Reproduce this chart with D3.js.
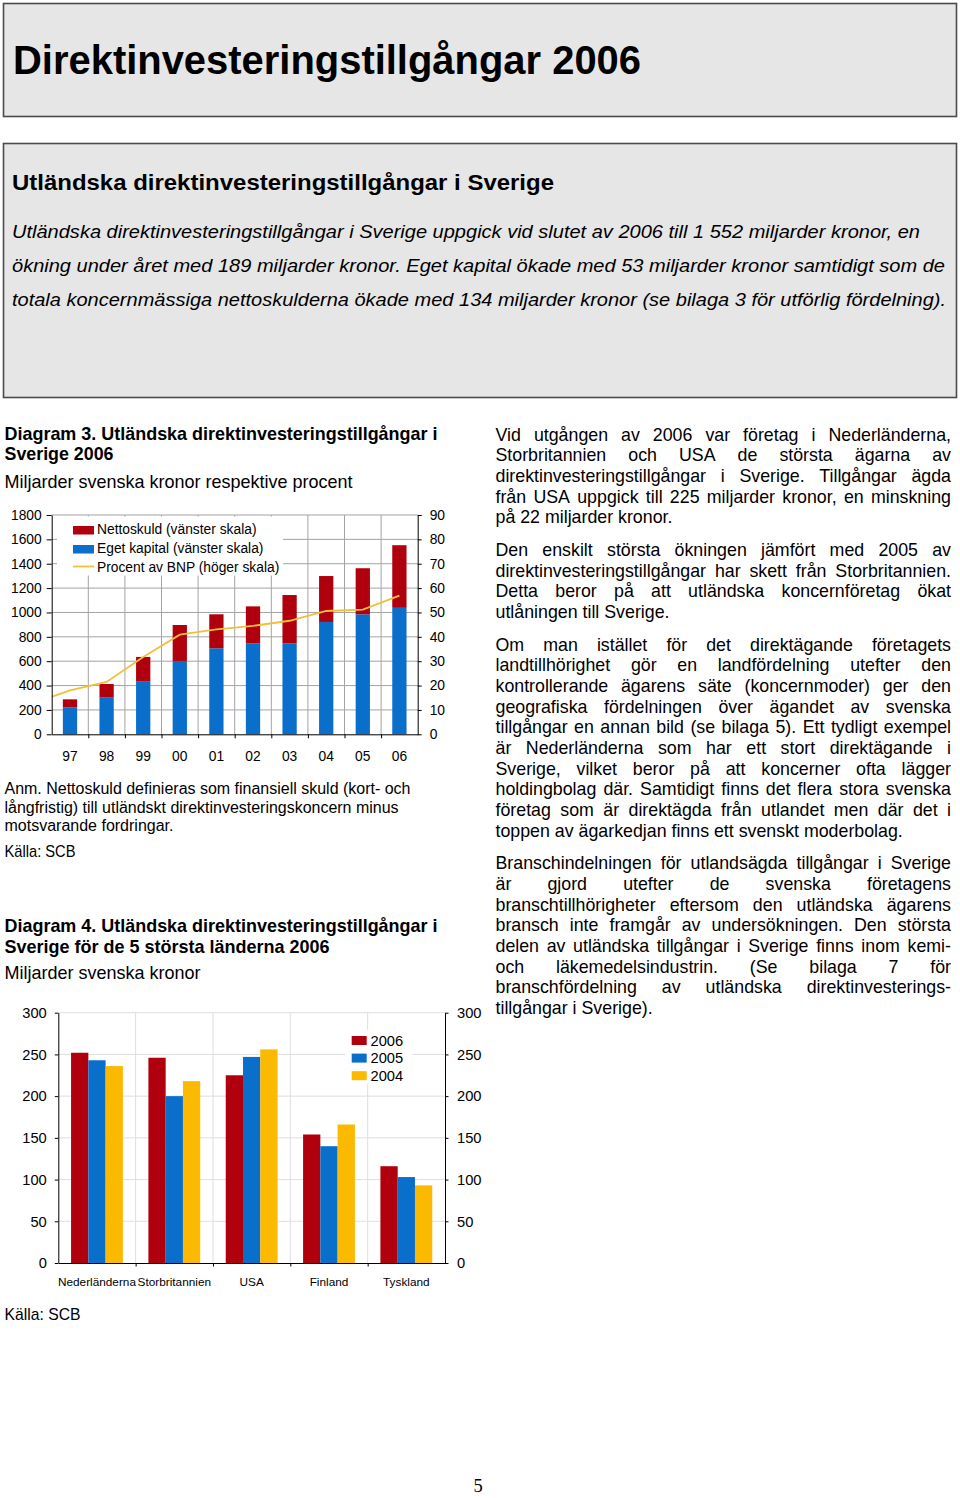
<!DOCTYPE html>
<html><head><meta charset="utf-8">
<script src="https://cdn.jsdelivr.net/npm/d3@7"></script>
<style>
html,body{margin:0;padding:0;background:#fff;}
svg text{font-family:"Liberation Sans",Arial,Helvetica,sans-serif;fill:#000;}
</style></head><body>
<svg id="page" width="960" height="1498"></svg>
<script>
// ---------- Diagram 3 data ----------
const yearLabels = ["97","98","99","00","01","02","03","04","05","06"];
const barYears = [1997,1998,1999,2000,2001,2002,2003,2004,2005,2006];
const egetKapital = [222,301,432,602,706,747,747,922,985,1038];
const nettoskuld = [65,112,203,295,279,303,396,377,378,514];
const bnpYears = [1996,1997,1998,1999,2000,2001,2002,2003,2004,2005,2006];
const bnpProcent = [12.8,18.0,21.5,31.7,40.9,43.1,44.5,46.6,50.6,51.2,56.9];
const leftTicks3 = [0,200,400,600,800,1000,1200,1400,1600,1800];
const rightTicks3 = [0,10,20,30,40,50,60,70,80,90];
const legend3 = ["Nettoskuld (vänster skala)","Eget kapital (vänster skala)","Procent av BNP (höger skala)"];

// ---------- Diagram 4 data ----------
const countries = ["Nederländerna","Storbritannien","USA","Finland","Tyskland"];
const seriesNames = ["2006","2005","2004"];
const values2006 = [252,246,225,154,116];
const values2005 = [243,200,247,140,103];
const values2004 = [236,218,256,166,93];
const ticks4 = [0,50,100,150,200,250,300];

// ---------- Texts ----------
const pageTitle = "Direktinvesteringstillgångar 2006";
const sectionHeading = "Utländska direktinvesteringstillgångar i Sverige";
const introLines = [
 "Utländska direktinvesteringstillgångar i Sverige uppgick vid slutet av 2006 till 1 552 miljarder kronor, en",
 "ökning under året med 189 miljarder kronor. Eget kapital ökade med 53 miljarder kronor samtidigt som de",
 "totala koncernmässiga nettoskulderna ökade med 134 miljarder kronor (se bilaga 3 för utförlig fördelning)."
];
const paragraphs = [
 ["Vid utgången av 2006 var företag i Nederländerna,",
  "Storbritannien och USA de största ägarna av",
  "direktinvesteringstillgångar i Sverige. Tillgångar ägda",
  "från USA uppgick till 225 miljarder kronor, en minskning",
  "på 22 miljarder kronor."],
 ["Den enskilt största ökningen jämfört med 2005 av",
  "direktinvesteringstillgångar har skett från Storbritannien.",
  "Detta beror på att utländska koncernföretag ökat",
  "utlåningen till Sverige."],
 ["Om man istället för det direktägande företagets",
  "landtillhörighet gör en landfördelning utefter den",
  "kontrollerande ägarens säte (koncernmoder) ger den",
  "geografiska fördelningen över ägandet av svenska",
  "tillgångar en annan bild (se bilaga 5). Ett tydligt exempel",
  "är Nederländerna som har ett stort direktägande i",
  "Sverige, vilket beror på att koncerner ofta lägger",
  "holdingbolag där. Samtidigt finns det flera stora svenska",
  "företag som är direktägda från utlandet men där det i",
  "toppen av ägarkedjan finns ett svenskt moderbolag."],
 ["Branschindelningen för utlandsägda tillgångar i Sverige",
  "är gjord utefter de svenska företagens",
  "branschtillhörigheter eftersom den utländska ägarens",
  "bransch inte framgår av undersökningen. Den största",
  "delen av utländska tillgångar i Sverige finns inom kemi-",
  "och läkemedelsindustrin. (Se bilaga 7 för",
  "branschfördelning av utländska direktinvesterings-",
  "tillgångar i Sverige)."]
];

const C = {red:"#B0000E", blue:"#0A6FCB", yellow:"#FBB900", line:"#F0C03A", grid3:"#a3a3a3", grid4:"#dedede"};
const svg = d3.select("#page");

function txt(x, y, s, size, opts) {
  opts = opts || {};
  const t = svg.append("text").attr("x", x).attr("y", y).attr("font-size", size).text(s);
  if (opts.weight) t.attr("font-weight", opts.weight);
  if (opts.style) t.attr("font-style", opts.style);
  if (opts.anchor) t.attr("text-anchor", opts.anchor);
  if (opts.family) t.style("font-family", opts.family);
  if (opts.len) t.attr("textLength", opts.len).attr("lengthAdjust", "spacingAndGlyphs");
  return t;
}

// ---------- Header boxes ----------
svg.append("rect").attr("x",3.5).attr("y",3.5).attr("width",953).attr("height",113)
  .attr("fill","#e6e6e6").attr("stroke","#4a4a4a").attr("stroke-width",1.6);
txt(13, 74, pageTitle, 40, {weight:"bold", len:628});
svg.append("rect").attr("x",3.5).attr("y",143.5).attr("width",953).attr("height",254)
  .attr("fill","#e6e6e6").attr("stroke","#4a4a4a").attr("stroke-width",1.6);
txt(12, 190, sectionHeading, 22, {weight:"bold", len:542});
const introLen = [908, 933, 934];
introLines.forEach((s,i)=> txt(12, 237.5 + i*34.3, s, 18.8, {style:"italic", len:introLen[i]}));

// ---------- Right column (justified) ----------
const meas = svg.append("text").attr("font-size",17.8).attr("x",-1000).attr("y",-1000);
function wWidth(s){ meas.text(s); return meas.node().getComputedTextLength(); }
const colX0 = 495.5, colX1 = 951, lh = 20.67;
let yy = 440.7;
paragraphs.forEach(lines => {
  lines.forEach((ln,i) => {
    const t = svg.append("text").attr("y", yy).attr("font-size",17.8);
    const last = i === lines.length-1;
    if (last) { t.attr("x", colX0).text(ln); }
    else {
      const words = ln.split(" ");
      const ws = words.map(wWidth);
      const gap = (colX1 - colX0 - d3.sum(ws)) / (words.length-1);
      let x = colX0;
      words.forEach((w,j)=>{ t.append("tspan").attr("x", x).text(w); x += ws[j] + gap; });
    }
    yy += lh;
  });
  yy += 12;
});
meas.remove();

// ---------- Diagram 3 titles ----------
txt(4.5, 439.5, "Diagram 3. Utländska direktinvesteringstillgångar i", 17.8, {weight:"bold", len:433});
txt(4.5, 460, "Sverige 2006", 17.8, {weight:"bold", len:109});
txt(4.5, 488, "Miljarder svenska kronor respektive procent", 17.8, {len:348});

// ---------- Diagram 3 chart ----------
const P3 = {l:51.7, r:417.7, t:515, b:734.3};
const x3 = d3.scaleLinear().domain([1996.5, 2006.5]).range([P3.l, P3.r]);
const yL = d3.scaleLinear().domain([0,1800]).range([P3.b, P3.t]);
const yR = d3.scaleLinear().domain([0,90]).range([P3.b, P3.t]);
const g3 = svg.append("g");
const bounds3 = barYears.slice(1).map(y => y - 0.5);
g3.append("g").selectAll("line").data(leftTicks3.filter(d=>d>0)).join("line")
  .attr("x1",P3.l).attr("x2",P3.r).attr("y1",d=>yL(d)).attr("y2",d=>yL(d))
  .attr("stroke",C.grid3).attr("stroke-width",1);
g3.append("g").selectAll("line").data(bounds3).join("line")
  .attr("x1",d=>x3(d)).attr("x2",d=>x3(d)).attr("y1",P3.t).attr("y2",P3.b)
  .attr("stroke",C.grid3).attr("stroke-width",1);
g3.append("rect").attr("x",57).attr("y",516.5).attr("width",226).attr("height",59).attr("fill","#fff");

const step3 = x3(1) - x3(0);
const bw3 = step3 * 0.39;
const stackRows = barYears.map((yr,i)=>({yr, ek:egetKapital[i], ns:nettoskuld[i]}));
const layers = d3.stack().keys(["ek","ns"])(stackRows);
g3.append("g").selectAll("g").data(layers).join("g")
  .attr("fill",(d,i)=>[C.blue,C.red][i])
  .selectAll("rect").data(d=>d).join("rect")
  .attr("x",d=>x3(d.data.yr)-bw3/2).attr("width",bw3)
  .attr("y",d=>yL(d[1])).attr("height",d=>yL(d[0])-yL(d[1]));

svg.append("clipPath").attr("id","clip3").append("rect")
  .attr("x",P3.l).attr("y",P3.t-2).attr("width",P3.r-P3.l).attr("height",P3.b-P3.t+2);
g3.append("path").datum(bnpProcent).attr("clip-path","url(#clip3)")
  .attr("fill","none").attr("stroke",C.line).attr("stroke-width",1.8)
  .attr("d", d3.line().x((d,i)=>x3(bnpYears[i])).y(d=>yR(d)));

function styleAxis(sel, size){
  sel.selectAll("text").attr("font-size",size).style("font-family",'"Liberation Sans",Arial,sans-serif').attr("fill","#000");
  sel.selectAll("line").attr("stroke","#000");
  sel.select(".domain").attr("stroke","#000");
}
const fmtInt = d3.format("d");
g3.append("g").attr("transform",`translate(${P3.l},0)`)
  .call(d3.axisLeft(yL).tickValues(leftTicks3).tickFormat(fmtInt).tickSize(5).tickSizeOuter(0).tickPadding(5))
  .call(s=>styleAxis(s,13.8));
g3.append("g").attr("transform",`translate(${P3.r},0)`)
  .call(d3.axisRight(yR).tickValues(rightTicks3).tickFormat(fmtInt).tickSize(4).tickSizeOuter(0).tickPadding(8))
  .call(s=>styleAxis(s,13.8));
g3.append("g").attr("transform",`translate(0,${P3.b})`)
  .call(d3.axisBottom(x3).tickValues(bounds3).tickSize(4).tickSizeOuter(0).tickFormat(""))
  .call(s=>styleAxis(s,13.8));
g3.append("g").selectAll("text").data(barYears).join("text")
  .attr("x",d=>x3(d)).attr("y",760.7).attr("text-anchor","middle").attr("font-size",13.8)
  .text((d,i)=>yearLabels[i]);

// legend 3
const lg3 = g3.append("g");
[C.red, C.blue].forEach((c,i)=> lg3.append("rect").attr("x",73).attr("y",526+i*19).attr("width",21).attr("height",8.5).attr("fill",c));
lg3.append("line").attr("x1",73).attr("x2",94).attr("y1",566.5).attr("y2",566.5).attr("stroke",C.line).attr("stroke-width",1.8);
legend3.forEach((s,i)=> lg3.append("text").attr("x",97).attr("y",534.3+i*19).attr("font-size",13.8).text(s));

// ---------- Notes ----------
txt(4.5, 794, "Anm. Nettoskuld definieras som finansiell skuld (kort- och", 16, {len:406});
txt(4.5, 812.7, "långfristig) till utländskt direktinvesteringskoncern minus", 16, {len:394});
txt(4.5, 831, "motsvarande fordringar.", 16, {len:169});
txt(4.5, 857, "Källa: SCB", 17, {len:71});

// ---------- Diagram 4 titles ----------
txt(4.5, 932, "Diagram 4. Utländska direktinvesteringstillgångar i", 17.8, {weight:"bold", len:433});
txt(4.5, 952.5, "Sverige för de 5 största länderna 2006", 17.8, {weight:"bold", len:325});
txt(4.5, 978.5, "Miljarder svenska kronor", 17.8, {len:196});

// ---------- Diagram 4 chart ----------
const P4 = {l:58.3, r:445, t:1012.7, b:1263};
const x0 = d3.scaleBand().domain(countries).range([P4.l, P4.r]).padding(0);
const bw0 = x0.bandwidth();
const x1 = d3.scaleBand().domain(seriesNames).range([bw0*0.165, bw0*0.835]).padding(0);
const y4 = d3.scaleLinear().domain([0,300]).range([P4.b, P4.t]);
const g4 = svg.append("g");
g4.append("g").selectAll("line").data(ticks4.filter(d=>d>0)).join("line")
  .attr("x1",P4.l).attr("x2",P4.r).attr("y1",d=>y4(d)).attr("y2",d=>y4(d))
  .attr("stroke",C.grid4).attr("stroke-width",1);
const bounds4 = countries.slice(1).map(c=>x0(c));
g4.append("g").selectAll("line").data(bounds4).join("line")
  .attr("x1",d=>d).attr("x2",d=>d).attr("y1",P4.t).attr("y2",P4.b)
  .attr("stroke",C.grid4).attr("stroke-width",1);
g4.append("rect").attr("x",345).attr("y",1030).attr("width",68).attr("height",54).attr("fill","#fff");

const seriesVals = [values2006, values2005, values2004];
const seriesCol = [C.red, C.blue, C.yellow];
const rows4 = countries.map((c,i)=>({c, vals: seriesNames.map((s,k)=>({s, v: seriesVals[k][i], col: seriesCol[k]}))}));
g4.append("g").selectAll("g").data(rows4).join("g")
  .attr("transform",d=>`translate(${x0(d.c)},0)`)
  .selectAll("rect").data(d=>d.vals).join("rect")
  .attr("x",d=>x1(d.s)).attr("width",x1.bandwidth())
  .attr("y",d=>y4(d.v)).attr("height",d=>y4(0)-y4(d.v)).attr("fill",d=>d.col);

g4.append("g").attr("transform",`translate(${P4.l},0)`)
  .call(d3.axisLeft(y4).tickValues(ticks4).tickFormat(fmtInt).tickSize(3.5).tickSizeOuter(0).tickPadding(8))
  .call(s=>styleAxis(s,14.7));
g4.append("g").attr("transform",`translate(${P4.r},0)`)
  .call(d3.axisRight(y4).tickValues(ticks4).tickFormat(fmtInt).tickSize(3.5).tickSizeOuter(0).tickPadding(8.5))
  .call(s=>styleAxis(s,14.7));
const xb4 = d3.scaleLinear().domain([P4.l,P4.r]).range([P4.l,P4.r]);
g4.append("g").attr("transform",`translate(0,${P4.b})`)
  .call(d3.axisBottom(xb4).tickValues(bounds4).tickSize(3.5).tickSizeOuter(0).tickFormat(""))
  .call(s=>styleAxis(s,12));
g4.append("g").selectAll("text").data(countries).join("text")
  .attr("x",d=>x0(d)+bw0/2).attr("y",1286).attr("text-anchor","middle").attr("font-size",11.8)
  .text(d=>d);

// legend 4
seriesNames.forEach((s,i)=>{
  g4.append("rect").attr("x",351.7).attr("y",1036+i*17.6).attr("width",15).attr("height",9).attr("fill",seriesCol[i]);
  g4.append("text").attr("x",370.5).attr("y",1045.7+i*17.6).attr("font-size",14.7).text(s);
});

txt(4.5, 1320, "Källa: SCB", 17, {len:76});
txt(473.5, 1492, "5", 18.5, {family:'"Liberation Serif","Times New Roman",serif'});
</script>
</body></html>
